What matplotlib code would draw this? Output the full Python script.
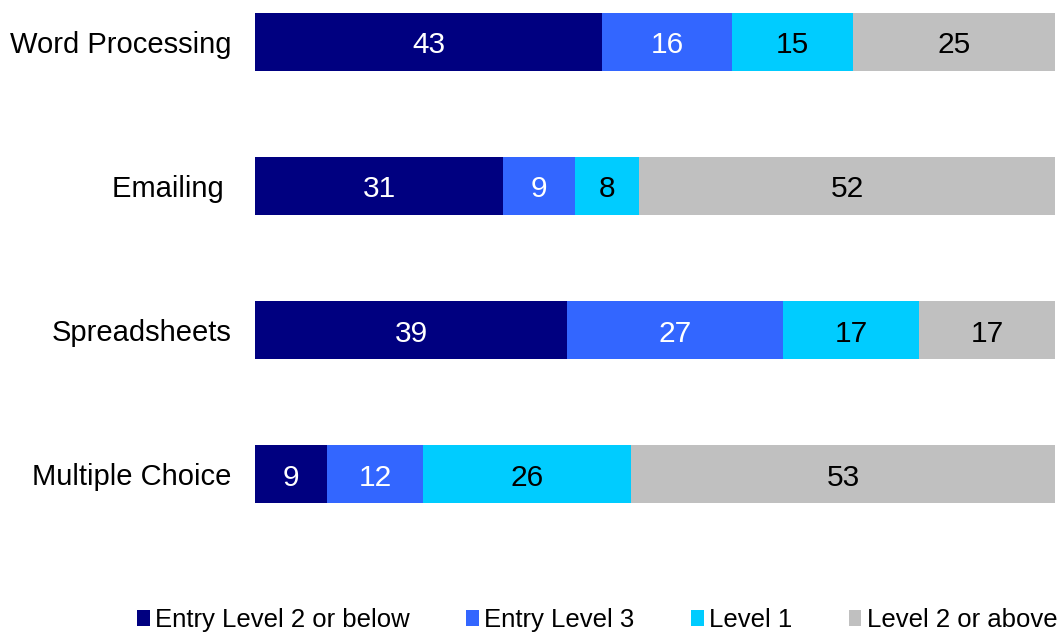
import numpy as np
import matplotlib.pyplot as plt
from matplotlib.patches import Patch

plt.rcParams['font.family'] = ['Liberation Sans', 'DejaVu Sans']

# данные с графика
categories = ['Word Processing', 'Emailing ', 'Spreadsheets', 'Multiple Choice']
series = ['Entry Level 2 or below', 'Entry Level 3', 'Level 1', 'Level 2 or above']
entry2 = [43, 31, 39, 9]
entry3 = [16, 9, 27, 12]
level1 = [15, 8, 17, 26]
level2 = [25, 52, 17, 53]

colors = ['#000080', '#3366FF', '#00CCFF', '#C0C0C0']
text_colors = ['white', 'white', 'black', 'black']

values = np.array([entry2, entry3, level1, level2], dtype=float)
shares = values / values.sum(axis=0) * 100  # 100% stacked

fig = plt.figure(figsize=(10.59, 6.34), dpi=100)
ax = fig.add_axes([255 / 1059, 1 - 540 / 634, 800 / 1059, 540 / 634])

y = np.arange(len(categories))
left = np.zeros(len(categories))
for i in range(len(series)):
    bars = ax.barh(y, shares[i], left=left, height=0.4, color=colors[i],
                   edgecolor='none', label=series[i])
    for j, b in enumerate(bars):
        ax.text(left[j] + shares[i][j] / 2, y[j] + 0.025, f'{int(values[i][j])}',
                ha='center', va='center', fontsize=21.5, color=text_colors[i])
    left += shares[i]

ax.set_xlim(0, 100)
ax.set_ylim(3.458, -0.29)
ax.set_yticks(y)
ax.set_yticklabels(categories, fontsize=21)
ax.tick_params(axis='y', length=0, pad=17)
ax.set_xticks([])
for s in ax.spines.values():
    s.set_visible(False)

handles = [Patch(facecolor=c) for c in colors]
fig.legend(handles, series, loc='center', bbox_to_anchor=(597 / 1059, 1 - 620 / 634),
           ncol=4, frameon=False, fontsize=18.5, handlelength=0.5, handleheight=0.55,
           handletextpad=0.2, columnspacing=2.2, borderaxespad=0, borderpad=0)

fig.savefig('out.png', dpi=100)
